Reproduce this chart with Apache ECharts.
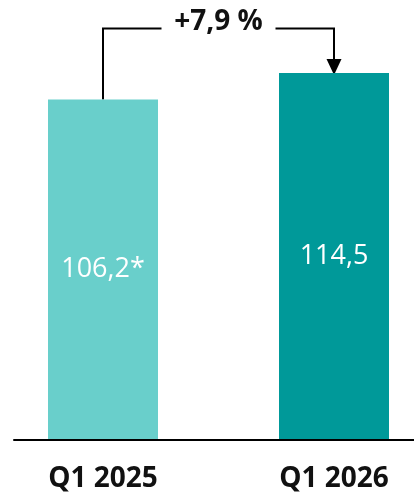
<!DOCTYPE html>
<html>
<head>
<meta charset="utf-8">
<script src="https://cdn.jsdelivr.net/npm/echarts@6/dist/echarts.min.js"></script>
<style>
  html, body { margin: 0; padding: 0; background: #fff; }
  #chart { width: 414px; height: 493px; }
</style>
</head>
<body>
<div id="chart"></div>
<script>
// Quarterly comparison data
const categories = ['Q1 2025', 'Q1 2026'];
const values = [106.2, 114.5];
const labelSuffixes = ['*', ''];
const barColors = ['#69CFCB', '#009999'];
const changeLabel = '+7,9 %';

const FONT = '"Open Sans", "Noto Sans", sans-serif';
const chart = echarts.init(document.getElementById('chart'));

const yMax = 137.3;

chart.setOption({
  animation: false,
  grid: [
    // bars live in this grid; categories sit on the grid edges
    { left: 103, right: 80, top: 0, bottom: 53 },
    // full-width grid that only carries the baseline
    { left: 14, right: 0, top: 0, bottom: 53 }
  ],
  xAxis: [
    {
      type: 'category', gridIndex: 0, data: categories, boundaryGap: false,
      axisLine: { show: false }, axisTick: { show: false },
      axisLabel: {
        color: '#111', fontFamily: FONT, fontWeight: 'bold', fontSize: 28, margin: 26
      }
    },
    {
      type: 'value', gridIndex: 1, min: 0, max: 1,
      axisLine: { show: true, lineStyle: { color: '#000', width: 2 } },
      axisTick: { show: false }, axisLabel: { show: false }, splitLine: { show: false }
    }
  ],
  yAxis: [
    { type: 'value', gridIndex: 0, min: 0, max: yMax, show: false, splitLine: { show: false } },
    { type: 'value', gridIndex: 1, min: 0, max: yMax, show: false, splitLine: { show: false } }
  ],
  series: [{
    type: 'bar',
    xAxisIndex: 0, yAxisIndex: 0,
    barWidth: 110,
    data: values.map((v, i) => ({ value: v, itemStyle: { color: barColors[i] } })),
    label: {
      show: true, position: 'inside', color: '#fff', fontFamily: FONT, fontSize: 27,
      formatter: p => String(p.value).replace('.', ',') + labelSuffixes[p.dataIndex]
    }
  }]
});

// change bracket from the first bar's top to an arrow on the second bar
const p0 = chart.convertToPixel({ xAxisIndex: 0, yAxisIndex: 0 }, [0, values[0]]);
const p1 = chart.convertToPixel({ xAxisIndex: 0, yAxisIndex: 0 }, [1, values[1]]);
const bracketY = 28.5;
const midX = (p0[0] + p1[0]) / 2;
const gap = 57;
const head = 15;
const lineStyle = { stroke: '#000', lineWidth: 2, fill: null };

chart.setOption({
  graphic: [
    { type: 'polyline', shape: { points: [[p0[0], p0[1]], [p0[0], bracketY], [midX - gap, bracketY]] }, style: lineStyle },
    { type: 'polyline', shape: { points: [[midX + gap, bracketY], [p1[0], bracketY], [p1[0], p1[1] - head + 2]] }, style: lineStyle },
    { type: 'polygon', shape: { points: [[p1[0] - 7.5, p1[1] - head + 1], [p1[0] + 7.5, p1[1] - head + 1], [p1[0], p1[1] + 2]] }, style: { fill: '#000' } },
    {
      type: 'text', x: midX, y: bracketY - 6,
      style: { text: changeLabel, fill: '#111', font: 'bold 28px ' + FONT, align: 'center', verticalAlign: 'middle' }
    }
  ]
});
</script>
</body>
</html>
